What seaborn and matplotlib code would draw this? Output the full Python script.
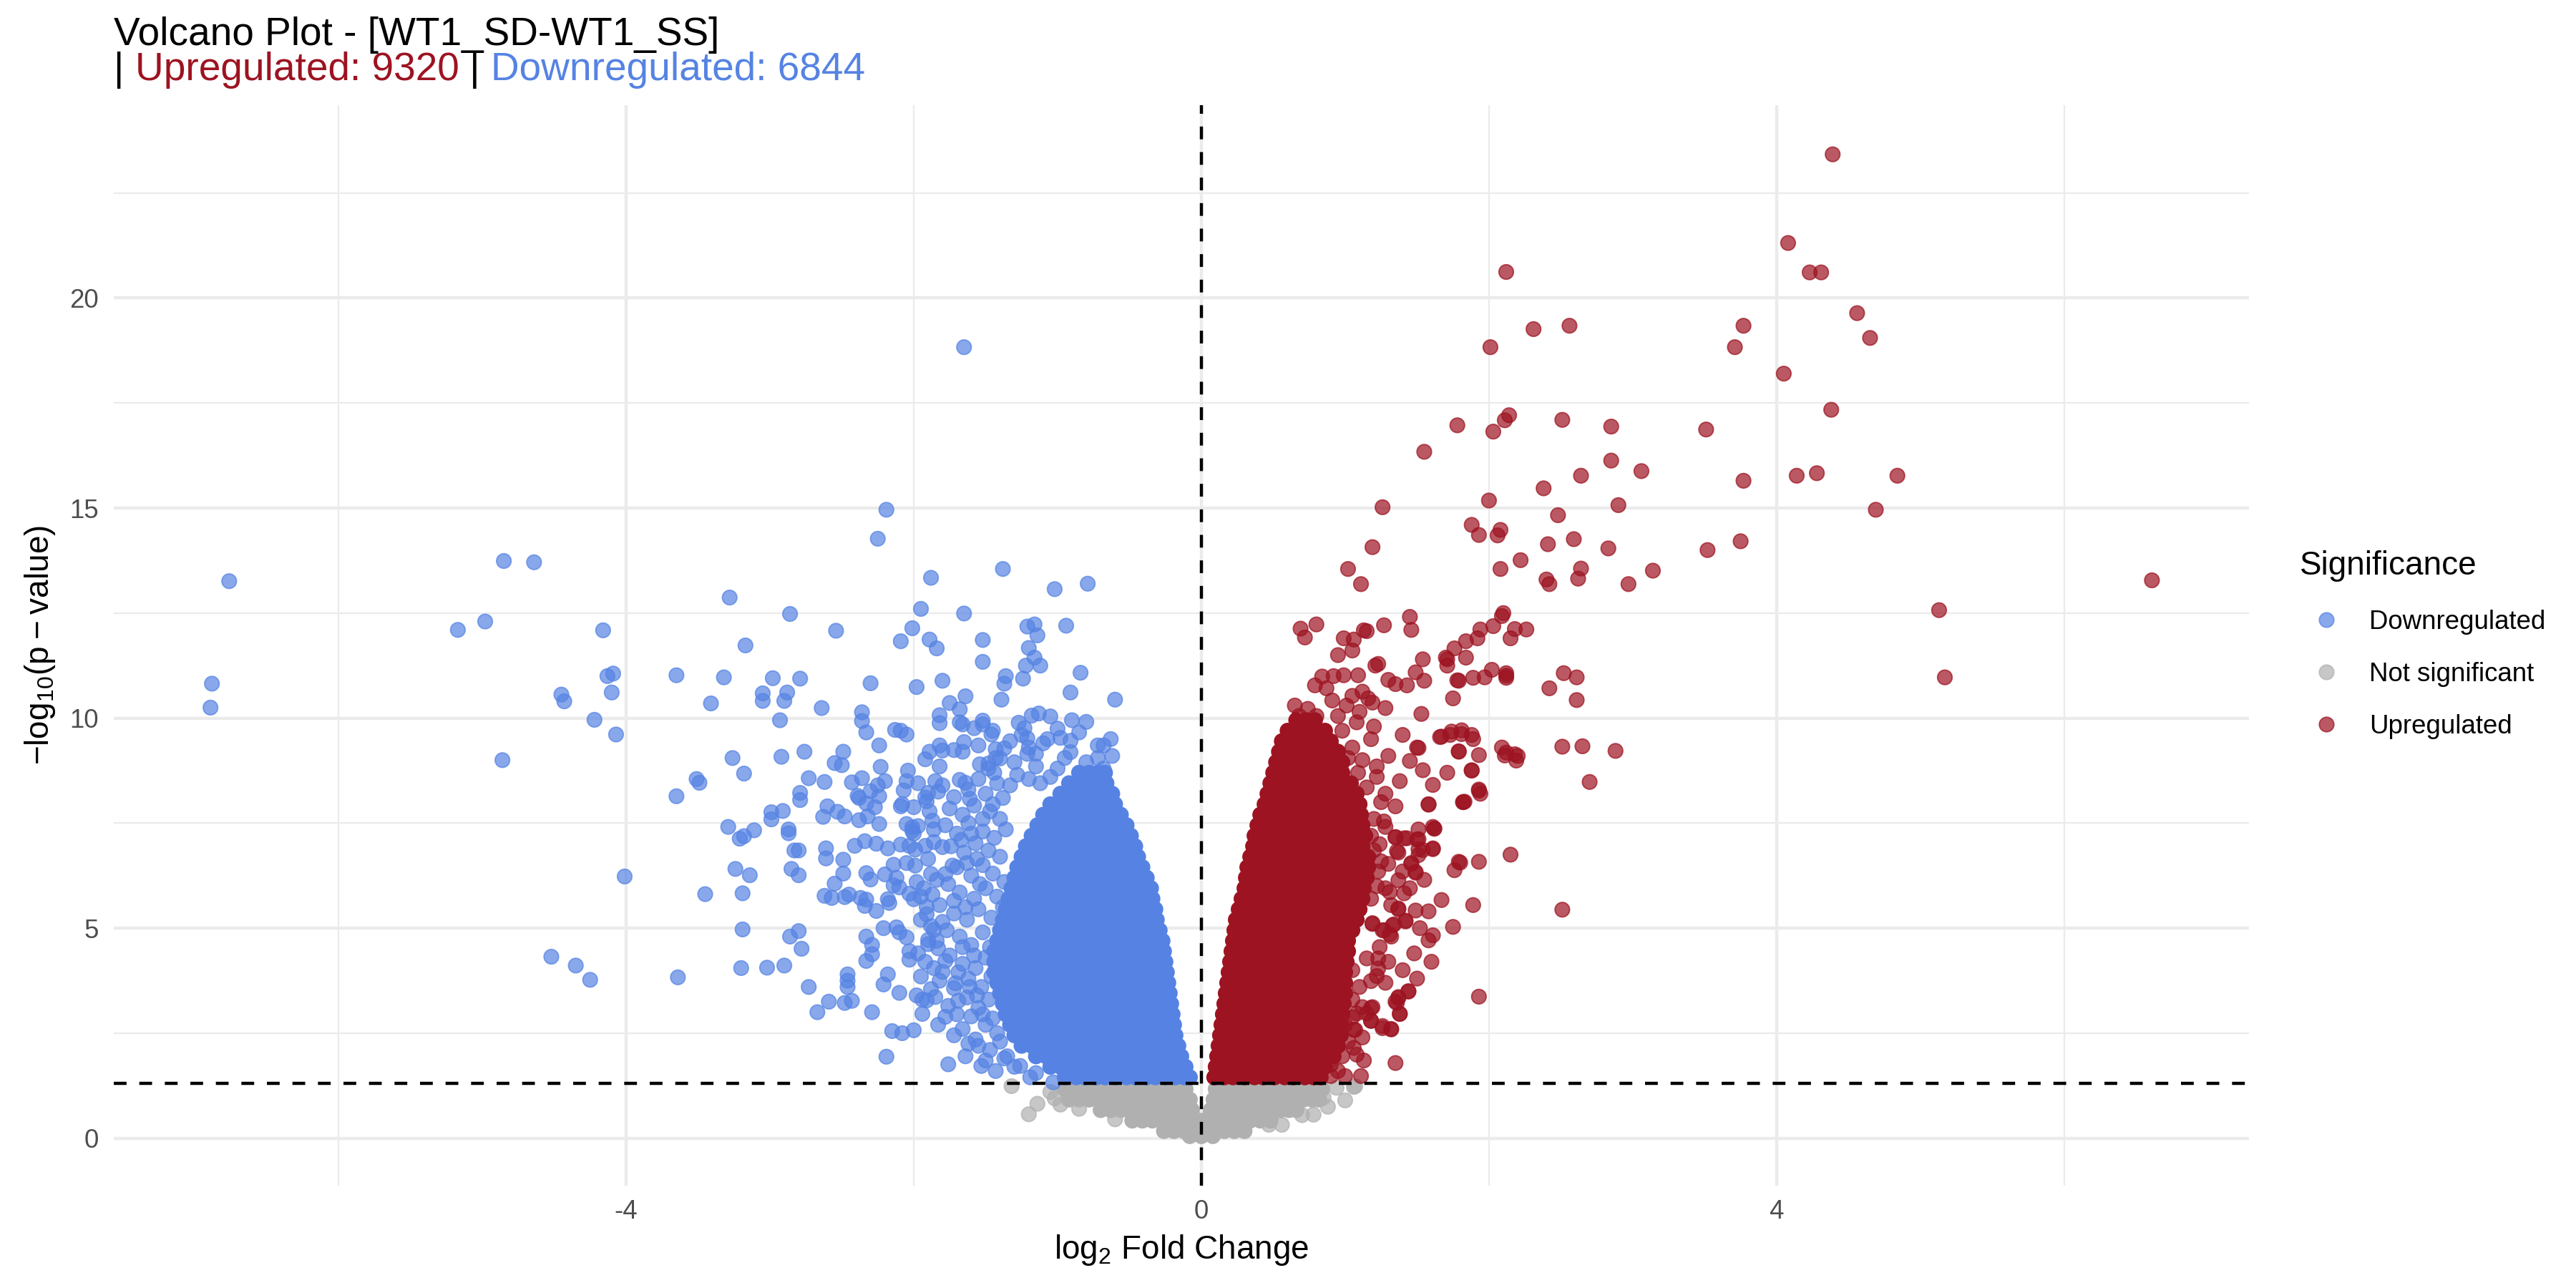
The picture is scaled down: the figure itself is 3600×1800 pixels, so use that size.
import numpy as np
import pandas as pd
import matplotlib
matplotlib.use("Agg")
import matplotlib.pyplot as plt
from matplotlib.lines import Line2D
from matplotlib.ticker import MultipleLocator
import seaborn as sns

# colours
col_down = "#5683E3"
col_up = "#9D1321"
col_ns = "#B0B0B0"

n_up = 9320
n_down = 6844

# ---- upregulated: dense core, one row per -log10 p level
up_rows_y = [1.45, 1.70, 1.95, 2.20, 2.45, 2.70, 2.95, 3.20, 3.45, 3.70, 3.95, 4.20, 4.45, 4.70,
             4.95, 5.20, 5.45, 5.70, 5.95, 6.20, 6.45, 6.70, 6.95, 7.20, 7.45, 7.70, 7.95, 8.20,
             8.45, 8.70, 8.95, 9.20, 9.45, 9.70, 9.95]
up_rows_x = [
    [.09, .16, .22, .30, .37, .43, .51, .58, .64, .72, .78, .83],
    [.10, .18, .24, .31, .39, .45, .52, .60, .66, .73, .80, .86],
    [.11, .18, .25, .33, .39, .46, .54, .60, .67, .75, .81, .88, .92],
    [.12, .19, .27, .33, .40, .48, .54, .61, .69, .75, .82, .89, .95],
    [.13, .21, .27, .34, .42, .48, .55, .63, .69, .76, .84, .90, .97],
    [.14, .21, .28, .36, .42, .49, .57, .63, .70, .78, .84, .91, .97],
    [.15, .22, .30, .36, .43, .51, .57, .64, .72, .78, .85, .93, .98],
    [.16, .24, .30, .37, .45, .51, .58, .66, .72, .79, .87, .93, .99],
    [.17, .24, .31, .39, .45, .52, .60, .66, .73, .81, .87, .94, 1.0],
    [.18, .25, .33, .39, .46, .54, .60, .67, .75, .81, .88, .96, 1.0],
    [.19, .27, .33, .40, .48, .54, .61, .69, .75, .82, .90, .96, 1.0],
    [.20, .27, .34, .42, .48, .55, .63, .69, .76, .84, .90, .97, 1.01],
    [.21, .28, .36, .42, .49, .57, .63, .70, .78, .84, .91, .99, 1.02],
    [.22, .30, .36, .43, .51, .57, .64, .72, .78, .85, .93, .99, 1.02],
    [.23, .30, .37, .45, .51, .58, .66, .72, .79, .87, .93, 1.00, 1.05],
    [.24, .31, .39, .45, .52, .60, .66, .73, .81, .87, .94, 1.02, 1.08],
    [.26, .33, .40, .48, .54, .61, .69, .75, .82, .90, .96, 1.03, 1.10],
    [.28, .35, .42, .50, .56, .63, .71, .77, .84, .92, .98, 1.05, 1.12],
    [.30, .37, .45, .51, .58, .66, .72, .79, .87, .93, 1.00, 1.08, 1.13],
    [.31, .38, .46, .52, .59, .67, .73, .80, .88, .94, 1.01, 1.09, 1.15],
    [.32, .40, .46, .53, .61, .67, .74, .82, .88, .95, 1.03, 1.09, 1.16],
    [.34, .41, .48, .56, .62, .69, .77, .83, .90, .98, 1.04, 1.11, 1.16],
    [.36, .43, .51, .57, .64, .72, .78, .85, .93, .99, 1.06, 1.12],
    [.37, .45, .51, .58, .66, .72, .79, .87, .93, 1.00, 1.08, 1.14],
    [.39, .46, .54, .60, .67, .75, .81, .88, .96, 1.02, 1.09, 1.12],
    [.41, .48, .56, .62, .69, .77, .83, .90, .98, 1.04, 1.11],
    [.44, .51, .59, .65, .72, .80, .86, .93, 1.01, 1.07, 1.10],
    [.46, .54, .60, .67, .75, .81, .88, .96, 1.02, 1.08],
    [.48, .56, .62, .69, .77, .83, .90, .98, 1.04],
    [.50, .58, .64, .71, .79, .85, .92, .98],
    [.52, .60, .66, .73, .81, .87, .94, .98],
    [.54, .62, .68, .75, .83, .89, .95],
    [.56, .64, .70, .77, .85, .90],
    [.60, .68, .74, .81, .86],
    [.66, .73, .79],
]

# ---- upregulated: scattered points (log2FC, -log10 p)
up_pts = [
    (4.39, 23.42), (4.08, 21.31), (4.23, 20.61), (4.31, 20.61), (2.12, 20.62), (4.56, 19.64),
    (4.65, 19.05), (3.77, 19.34), (3.71, 18.83), (2.31, 19.26), (2.56, 19.34), (2.01, 18.83),
    (4.05, 18.20), (4.38, 17.34), (1.78, 16.97), (2.11, 17.09), (2.14, 17.21), (2.03, 16.82),
    (2.51, 17.10), (2.85, 16.94), (3.51, 16.87), (1.55, 16.34), (2.85, 16.13), (3.06, 15.88),
    (2.64, 15.77), (2.38, 15.47), (3.77, 15.65), (4.14, 15.77), (4.28, 15.83), (4.84, 15.77),
    (2.00, 15.18), (2.90, 15.07), (4.69, 14.96), (2.48, 14.83), (1.88, 14.60), (1.93, 14.36),
    (2.08, 14.48), (2.06, 14.35), (2.41, 14.14), (2.59, 14.26), (2.83, 14.04), (3.52, 14.00),
    (3.75, 14.21), (2.22, 13.76), (2.64, 13.56), (2.08, 13.55), (2.40, 13.30), (2.42, 13.19),
    (2.62, 13.32), (2.97, 13.19), (3.14, 13.51), (6.61, 13.28), (5.13, 12.57), (5.17, 10.97),
    (1.45, 12.41), (1.46, 12.10), (2.10, 12.50), (2.09, 12.43), (2.03, 12.19), (1.94, 12.11),
    (2.18, 12.12), (2.26, 12.11), (2.15, 11.90), (1.92, 11.90), (1.84, 11.83), (1.76, 11.66),
    (1.54, 11.40), (1.70, 11.44), (1.71, 11.25), (1.84, 11.44), (2.02, 11.15), (2.12, 11.07),
    (2.12, 10.96), (1.97, 10.97), (1.89, 10.96), (1.79, 10.89), (1.49, 11.09), (1.55, 10.89),
    (1.43, 10.78), (2.52, 11.07), (2.61, 10.97), (2.42, 10.71), (2.61, 10.43), (1.75, 10.47),
    (1.53, 10.10), (2.51, 9.32), (2.65, 9.33), (2.88, 9.22), (2.70, 8.48), (2.11, 9.11),
    (2.19, 8.99), (2.18, 9.14), (1.88, 9.60), (1.81, 9.71), (1.74, 9.68), (1.67, 9.56),
    (1.79, 9.21), (1.93, 9.12), (1.88, 8.76), (1.71, 8.70), (1.93, 8.27), (1.82, 8.00),
    (1.58, 7.94), (1.50, 9.30), (1.40, 9.60), (1.26, 15.02), (1.19, 14.07), (1.02, 13.55),
    (1.11, 13.19), (0.80, 12.23), (0.69, 12.13), (0.72, 11.92), (1.27, 12.21), (1.13, 12.09),
    (1.15, 12.07), (0.99, 11.90), (1.06, 11.87), (1.05, 11.61), (0.95, 11.50), (1.23, 11.29),
    (1.21, 11.25), (1.71, 11.40), (0.99, 11.02), (1.09, 11.02), (0.84, 10.99), (0.92, 11.00),
    (0.79, 10.78), (0.87, 10.71), (1.30, 10.91), (1.35, 10.81), (1.78, 10.90), (1.05, 10.53),
    (1.16, 10.47), (1.12, 10.63), (0.65, 10.30), (0.74, 10.22), (0.91, 10.42), (1.01, 10.30),
    (1.19, 10.37), (1.28, 10.24), (2.15, 6.75), (2.51, 5.44), (1.93, 3.37), (1.35, 1.79),
    (1.08, 1.99), (1.32, 2.60), (1.26, 2.62), (1.38, 2.96), (1.44, 3.50), (1.36, 3.22),
    (1.37, 3.36), (1.18, 2.80), (1.19, 3.12), (1.06, 2.58), (1.61, 4.83), (1.75, 5.03),
    (1.58, 4.71), (1.67, 5.67), (1.89, 5.55), (1.49, 5.42), (1.42, 5.18), (1.34, 5.09),
    (1.26, 4.95), (1.31, 4.85), (1.19, 5.12), (1.37, 5.47), (1.61, 6.88), (1.51, 6.88),
    (1.51, 7.12), (1.62, 7.37), (1.43, 7.14), (1.35, 7.16), (1.36, 6.83), (1.46, 6.55),
    (1.49, 6.34), (1.79, 6.58), (1.76, 6.38), (1.93, 6.58), (1.88, 8.75), (1.79, 9.20),
    (1.83, 8.01), (1.93, 8.30), (1.61, 7.41), (1.58, 7.95), (1.61, 8.41), (1.51, 9.29),
    (1.45, 8.98), (1.54, 8.76), (1.66, 9.55), (1.73, 9.60), (1.81, 9.62), (1.89, 9.50),
    (2.09, 9.30), (2.20, 9.10), (2.12, 9.18), (2.12, 11.01), (1.11, 1.48), (0.90, 1.48),
    (0.95, 1.60), (1.00, 1.48), (1.07, 2.58), (1.32, 2.59), (1.26, 2.67), (1.18, 2.79),
    (1.05, 2.88), (1.08, 2.97), (1.15, 2.97), (1.18, 3.10), (1.38, 2.96), (1.35, 3.25),
    (1.37, 3.34), (1.44, 3.49), (1.12, 3.12), (1.22, 3.86), (1.18, 3.74), (1.23, 4.04),
    (1.15, 4.28), (1.23, 4.28), (1.42, 5.16), (1.37, 5.45), (1.32, 4.80), (1.27, 4.95),
    (1.33, 5.07), (1.19, 5.10), (1.41, 5.83), (1.31, 5.86), (1.37, 6.14), (1.40, 6.35),
    (1.49, 6.32), (1.46, 6.53), (1.30, 6.53), (1.25, 6.59), (1.23, 6.35), (1.27, 7.54),
    (1.28, 7.41), (1.35, 7.17), (1.41, 7.14), (1.50, 7.11), (1.51, 7.35), (1.62, 7.37),
    (1.61, 6.90), (1.51, 6.74), (1.54, 6.86), (1.37, 6.80), (1.80, 6.56), (1.82, 8.00),
    (1.94, 8.20), (1.05, 9.30), (1.12, 9.00), (1.22, 8.60), (1.28, 8.20), (1.18, 9.50),
    (0.98, 9.70), (1.08, 9.90), (1.30, 9.10), (1.38, 8.50), (1.35, 7.90), (1.25, 8.00),
    (1.20, 7.60), (1.13, 1.85), (1.02, 2.30), (1.24, 4.55), (1.18, 5.70), (1.22, 6.00),
    (1.02, 5.60), (1.08, 5.90), (1.15, 6.40), (1.20, 6.85), (1.18, 7.20), (1.24, 7.00),
    (1.08, 7.95), (1.15, 8.35), (1.22, 8.85), (1.09, 8.70), (1.02, 9.05), (0.92, 9.25),
    (0.85, 9.55), (0.75, 9.80), (0.68, 10.05), (0.80, 10.05), (0.95, 10.05), (1.10, 10.15),
    (1.20, 9.80), (1.05, 4.00), (1.10, 3.60), (1.05, 3.30), (1.00, 2.70), (1.12, 2.40),
    (0.98, 1.95), (0.90, 1.75), (1.06, 2.15), (1.28, 3.70), (1.30, 4.20), (1.32, 5.55),
    (1.28, 5.95), (1.45, 5.95), (1.55, 6.15), (1.58, 5.40), (1.52, 5.00), (1.48, 4.40),
    (1.40, 4.00), (1.50, 3.80), (1.60, 4.20),
]

# ---- downregulated: dense core rows
down_rows_y = [1.45, 1.70, 1.95, 2.20, 2.45, 2.70, 2.95, 3.20, 3.45, 3.70, 3.95, 4.20, 4.45, 4.70,
               4.95, 5.20, 5.45, 5.70, 5.95, 6.20, 6.45, 6.70, 6.95, 7.20, 7.45, 7.70, 7.95, 8.20,
               8.45, 8.70]
down_rows_x = [
    [-.95, -.87, -.81, -.73, -.67, -.60, -.52, -.46, -.38, -.32, -.25, -.18, -.12, -.08],
    [-1.05, -.98, -.90, -.84, -.77, -.69, -.63, -.56, -.48, -.42, -.35, -.27, -.21, -.15, -.11],
    [-1.15, -1.08, -1.01, -.95, -.87, -.81, -.73, -.67, -.59, -.53, -.46, -.39, -.32, -.25, -.19, -.14],
    [-1.25, -1.18, -1.10, -1.04, -.97, -.89, -.83, -.76, -.68, -.62, -.55, -.47, -.41, -.34, -.27, -.21, -.16],
    [-1.30, -1.22, -1.15, -1.08, -1.01, -.94, -.87, -.80, -.73, -.66, -.59, -.52, -.45, -.38, -.31, -.24, -.18],
    [-1.33, -1.26, -1.19, -1.11, -1.05, -.98, -.90, -.84, -.77, -.69, -.63, -.56, -.48, -.42, -.35, -.28, -.22, -.19],
    [-1.36, -1.29, -1.22, -1.15, -1.08, -1.01, -.94, -.87, -.80, -.73, -.66, -.59, -.52, -.45, -.38, -.31, -.25, -.20],
    [-1.38, -1.32, -1.24, -1.18, -1.11, -1.03, -.97, -.90, -.82, -.76, -.69, -.61, -.55, -.48, -.40, -.34, -.27, -.21],
    [-1.40, -1.33, -1.26, -1.19, -1.12, -1.05, -.98, -.91, -.84, -.77, -.70, -.63, -.56, -.49, -.42, -.35, -.29, -.22],
    [-1.42, -1.36, -1.28, -1.22, -1.15, -1.07, -1.01, -.94, -.86, -.80, -.73, -.65, -.59, -.52, -.44, -.38, -.31, -.26, -.23],
    [-1.44, -1.37, -1.30, -1.23, -1.16, -1.09, -1.02, -.95, -.88, -.81, -.74, -.67, -.60, -.53, -.46, -.39, -.32, -.27, -.24],
    [-1.44, -1.38, -1.31, -1.24, -1.18, -1.10, -1.04, -.97, -.89, -.83, -.76, -.68, -.62, -.55, -.47, -.41, -.34, -.28, -.25],
    [-1.44, -1.37, -1.30, -1.23, -1.16, -1.09, -1.02, -.95, -.88, -.81, -.74, -.67, -.60, -.53, -.46, -.39, -.33, -.26],
    [-1.42, -1.35, -1.27, -1.21, -1.14, -1.06, -1.00, -.93, -.85, -.79, -.72, -.64, -.58, -.51, -.43, -.37, -.31, -.27],
    [-1.40, -1.33, -1.26, -1.19, -1.12, -1.05, -.98, -.91, -.84, -.77, -.70, -.63, -.56, -.49, -.42, -.36, -.29],
    [-1.38, -1.31, -1.23, -1.17, -1.10, -1.02, -.96, -.89, -.81, -.75, -.68, -.60, -.54, -.47, -.40, -.34, -.31],
    [-1.36, -1.29, -1.22, -1.15, -1.08, -1.01, -.94, -.87, -.80, -.73, -.66, -.59, -.52, -.45, -.38, -.32],
    [-1.34, -1.27, -1.19, -1.13, -1.06, -.98, -.92, -.85, -.77, -.71, -.64, -.56, -.50, -.43, -.37, -.34],
    [-1.32, -1.25, -1.18, -1.11, -1.04, -.97, -.90, -.83, -.76, -.69, -.62, -.55, -.48, -.41, -.35],
    [-1.30, -1.23, -1.15, -1.09, -1.02, -.94, -.88, -.81, -.73, -.67, -.60, -.52, -.46, -.40, -.38],
    [-1.28, -1.21, -1.14, -1.07, -1.00, -.93, -.86, -.79, -.72, -.65, -.58, -.51, -.45, -.41],
    [-1.25, -1.18, -1.10, -1.04, -.97, -.89, -.83, -.76, -.68, -.62, -.55, -.49, -.44],
    [-1.22, -1.15, -1.08, -1.01, -.94, -.87, -.80, -.73, -.66, -.59, -.52, -.46],
    [-1.18, -1.11, -1.03, -.97, -.90, -.82, -.76, -.69, -.61, -.55, -.49],
    [-1.14, -1.07, -1.00, -.93, -.86, -.79, -.72, -.65, -.58, -.52],
    [-1.10, -1.03, -.95, -.89, -.82, -.74, -.68, -.61, -.56],
    [-1.05, -.98, -.91, -.84, -.77, -.70, -.64, -.60],
    [-.98, -.91, -.83, -.77, -.70, -.64, -.62],
    [-.92, -.85, -.78, -.71, -.66],
    [-.85, -.78, -.72, -.67],
]

# ---- downregulated: scattered points
down_pts = [
    (-6.89, 10.25), (-6.88, 10.82), (-6.76, 13.26), (-5.17, 12.10), (-4.98, 12.30), (-4.85, 13.74),
    (-4.64, 13.71), (-4.86, 9.00), (-4.16, 12.09), (-4.09, 11.06), (-4.13, 11.00), (-4.10, 10.61),
    (-4.45, 10.56), (-4.43, 10.40), (-4.22, 9.96), (-4.07, 9.61), (-4.01, 6.23), (-4.52, 4.32),
    (-4.35, 4.11), (-4.25, 3.77), (-3.65, 11.02), (-3.65, 8.14), (-3.64, 3.83),
    (-1.65, 18.83), (-2.19, 14.96), (-2.25, 14.27), (-1.38, 13.55), (-1.88, 13.34), (-1.02, 13.07),
    (-0.79, 13.20), (-3.28, 12.87), (-2.86, 12.48), (-1.95, 12.60), (-1.65, 12.49), (-2.54, 12.08),
    (-3.17, 11.73), (-2.01, 12.14), (-2.09, 11.83), (-1.89, 11.87), (-1.84, 11.66), (-1.52, 11.86),
    (-1.52, 11.34), (-0.94, 12.20), (-1.21, 12.18), (-1.16, 12.23), (-1.14, 11.97), (-1.20, 11.67),
    (-1.16, 11.44), (-1.22, 11.25), (-1.12, 11.25), (-0.84, 11.08), (-0.91, 10.61), (-0.60, 10.44),
    (-1.36, 11.00), (-1.37, 10.82), (-1.24, 10.94), (-1.39, 10.44), (-3.32, 10.97), (-2.98, 10.95),
    (-2.79, 10.94), (-3.41, 10.35), (-3.05, 10.59), (-3.05, 10.41), (-2.88, 10.61), (-2.90, 10.41),
    (-2.93, 9.95), (-2.64, 10.24), (-2.30, 10.83), (-1.98, 10.74), (-1.80, 10.89), (-1.75, 10.36),
    (-1.68, 10.21), (-1.64, 10.52), (-2.36, 10.14), (-2.36, 9.93), (-2.33, 9.66), (-2.24, 9.35),
    (-2.13, 9.72), (-2.09, 9.70), (-2.05, 9.61), (-1.82, 10.07), (-1.82, 9.88), (-1.68, 9.90),
    (-1.66, 9.85), (-1.58, 9.76), (-1.52, 9.94), (-1.52, 9.85), (-1.45, 9.70), (-1.46, 9.61),
    (-1.27, 9.89), (-1.23, 9.76), (-1.18, 10.06), (-1.13, 10.11), (-1.05, 10.04), (-1.00, 9.75),
    (-0.98, 9.53), (-1.07, 9.50), (-0.91, 9.46), (-0.91, 9.19), (-0.90, 9.95), (-0.80, 9.91),
    (-0.85, 9.66), (-0.72, 9.35), (-0.68, 9.35), (-0.63, 9.50), (-1.25, 9.60), (-1.21, 9.52),
    (-1.20, 9.30), (-1.15, 9.15), (-1.21, 9.15), (-1.43, 9.26), (-1.37, 9.28), (-1.40, 9.04),
    (-3.26, 9.05), (-2.92, 9.08), (-2.76, 9.20), (-2.49, 9.20), (-2.55, 8.93), (-2.50, 8.88),
    (-3.18, 8.68), (-3.51, 8.55), (-3.49, 8.46), (-2.73, 8.57), (-2.62, 8.48), (-2.23, 8.84),
    (-2.36, 8.57), (-2.43, 8.47), (-2.20, 8.50), (-2.25, 8.40), (-2.30, 8.26), (-2.24, 8.14),
    (-2.79, 8.22), (-2.79, 8.05), (-2.60, 7.90), (-2.63, 7.65), (-2.53, 7.77), (-2.48, 7.66),
    (-2.99, 7.76), (-2.99, 7.59), (-2.91, 7.79), (-3.29, 7.41), (-3.21, 7.13), (-3.18, 7.19),
    (-3.11, 7.33), (-2.87, 7.35), (-2.87, 7.26), (-2.83, 6.85), (-2.38, 8.10), (-2.33, 7.97),
    (-2.27, 7.88), (-2.32, 7.66), (-2.38, 7.57), (-2.24, 7.48), (-2.04, 8.75), (-2.05, 8.50),
    (-1.97, 8.45), (-2.07, 8.28), (-2.08, 7.95), (-2.00, 7.88), (-1.92, 9.02), (-1.89, 9.20),
    (-1.82, 8.85), (-1.80, 9.23), (-1.72, 9.24), (-1.66, 9.20), (-1.65, 9.43), (-1.82, 9.35),
    (-1.54, 8.90), (-1.48, 8.92), (-1.48, 8.80), (-1.44, 8.70), (-1.43, 9.05), (-1.68, 8.53),
    (-1.64, 8.46), (-1.61, 8.08), (-1.90, 8.22), (-1.91, 8.02), (-1.89, 7.78), (-1.85, 8.50),
    (-1.83, 8.25), (-2.01, 7.40), (-2.00, 7.25), (-1.97, 7.43), (-2.39, 8.15), (-2.09, 7.90),
    (-1.92, 8.11), (-2.05, 7.48), (-2.01, 7.32), (-1.86, 7.35), (-1.87, 7.56),
    (-3.24, 6.41), (-3.14, 6.26), (-2.85, 6.41), (-2.80, 6.26), (-3.45, 5.81), (-3.19, 5.83),
    (-3.19, 4.97), (-2.86, 4.80), (-2.80, 4.93), (-2.78, 4.51), (-3.20, 4.05), (-3.02, 4.06),
    (-2.90, 4.11), (-2.73, 3.60), (-2.67, 3.00), (-2.59, 3.25), (-2.48, 3.22), (-2.43, 3.27),
    (-2.46, 3.90), (-2.46, 3.75), (-2.46, 3.60), (-2.29, 3.00), (-2.21, 3.66), (-2.18, 3.90),
    (-2.10, 3.46), (-1.98, 3.40), (-1.94, 3.30), (-1.91, 3.28), (-1.85, 3.36), (-1.94, 2.96),
    (-1.78, 2.89), (-1.69, 3.27), (-2.15, 2.55), (-2.08, 2.50), (-2.00, 2.57), (-2.19, 1.94),
    (-1.76, 1.76), (-1.53, 1.72), (-1.66, 2.60), (-1.57, 2.35), (-1.55, 2.20), (-1.37, 1.90),
    (-1.26, 1.72), (-1.19, 1.45), (-1.15, 1.55), (-1.03, 1.33), (-2.33, 4.80), (-2.29, 4.60),
    (-2.29, 4.38), (-2.33, 4.22), (-2.21, 5.00), (-2.12, 5.02), (-2.10, 4.90), (-2.05, 4.78),
    (-2.03, 4.45), (-2.03, 4.25), (-1.90, 4.62), (-1.90, 4.72), (-1.84, 4.70), (-1.83, 4.52),
    (-1.86, 4.96), (-1.80, 3.96), (-1.82, 3.75), (-1.71, 3.69), (-1.72, 3.57),
    (-2.62, 5.77), (-2.57, 5.72), (-2.48, 5.74), (-2.45, 5.80), (-2.37, 5.72), (-2.33, 5.68),
    (-2.34, 5.53), (-2.26, 5.41), (-2.18, 5.69), (-2.17, 5.60), (-2.14, 6.02), (-2.03, 5.82),
    (-2.00, 5.69), (-1.95, 5.75), (-1.91, 5.51), (-1.91, 5.33), (-2.61, 6.90), (-2.61, 6.66),
    (-2.49, 6.63), (-2.80, 6.85), (-2.49, 6.30), (-2.55, 6.06), (-2.41, 6.96), (-2.34, 7.07),
    (-2.26, 7.01), (-2.18, 6.90), (-2.09, 6.99), (-2.03, 6.96), (-1.99, 6.87), (-1.92, 6.96),
    (-1.86, 7.05), (-1.80, 6.93), (-2.33, 6.31), (-2.30, 6.16), (-2.20, 6.28), (-2.14, 6.51),
    (-2.12, 6.20), (-2.10, 5.97), (-2.05, 6.55), (-1.99, 6.49), (-1.90, 6.65), (-1.88, 6.29),
    (-1.78, 6.29), (-1.73, 6.49),
    (-1.80, 8.40), (-1.72, 8.12), (-1.62, 8.30), (-1.55, 8.55), (-1.50, 8.20), (-1.42, 8.45),
    (-1.75, 7.85), (-1.66, 7.70), (-1.58, 7.92), (-1.47, 7.78), (-1.40, 7.60), (-1.78, 7.45),
    (-1.70, 7.25), (-1.62, 7.50), (-1.52, 7.30), (-1.44, 7.15), (-1.36, 7.35), (-1.74, 6.95),
    (-1.65, 6.80), (-1.57, 7.02), (-1.48, 6.85), (-1.40, 6.70), (-1.70, 6.45), (-1.60, 6.25),
    (-1.52, 6.50), (-1.45, 6.30), (-1.37, 6.10), (-1.76, 6.05), (-1.68, 5.85), (-1.58, 5.70),
    (-1.50, 5.95), (-1.42, 5.75), (-1.82, 5.55), (-1.72, 5.35), (-1.63, 5.20), (-1.55, 5.45),
    (-1.46, 5.25), (-1.38, 5.50), (-1.77, 4.95), (-1.68, 4.80), (-1.60, 4.60), (-1.52, 4.90),
    (-1.47, 4.55), (-1.75, 4.35), (-1.66, 4.15), (-1.57, 4.05), (-1.50, 4.30), (-1.62, 3.80),
    (-1.53, 3.60), (-1.46, 3.85), (-1.63, 3.35), (-1.55, 3.10), (-1.48, 3.30), (-1.60, 2.90),
    (-1.50, 2.70), (-1.42, 2.50), (-1.47, 2.10), (-1.40, 2.30), (-1.35, 1.95), (-1.30, 1.70),
    (-1.98, 6.10), (-1.93, 5.95), (-1.87, 5.80), (-1.84, 6.15), (-1.95, 5.20), (-1.88, 5.05),
    (-1.80, 5.15), (-1.97, 4.40), (-1.92, 4.20), (-1.86, 4.05), (-1.78, 4.22), (-1.95, 3.85),
    (-1.88, 3.55), (-1.76, 3.15), (-1.70, 2.95), (-1.83, 2.70), (-1.72, 2.45), (-1.62, 2.25),
    (-1.64, 1.95), (-1.50, 1.85), (-1.43, 1.60), (-1.72, 5.65), (-1.64, 5.50), (-1.66, 4.55),
    (-1.58, 4.35), (-1.69, 3.95), (-1.61, 3.60), (-1.56, 3.40), (-1.52, 2.95), (-1.45, 2.85),
    (-1.54, 6.05), (-1.63, 6.55), (-1.56, 6.65), (-1.67, 7.10), (-1.60, 7.25), (-1.52, 7.60),
    (-1.45, 7.95), (-1.38, 8.10), (-1.33, 8.40), (-1.28, 8.65), (-1.20, 8.55), (-1.12, 8.45),
    (-1.05, 8.60), (-1.00, 8.80), (-1.15, 8.85), (-1.30, 8.95), (-0.95, 9.05), (-0.80, 8.95),
    (-0.72, 9.05), (-0.68, 8.80), (-0.62, 9.10), (-1.10, 9.40), (-1.33, 9.45), (-1.55, 9.35),
]

# ---- not significant: rows below the p = 0.05 line, plus stragglers
ns_rows_y = [1.17, 0.92, 0.67, 0.42, 0.17, 0.05]
ns_rows_x = [
    [-.95, -.88, -.81, -.74, -.67, -.60, -.53, -.46, -.39, -.32, -.25, -.18, -.11,
     .10, .17, .24, .31, .38, .45, .52, .59, .66, .73, .80, .84],
    [-.92, -.85, -.78, -.71, -.64, -.57, -.50, -.43, -.36, -.29, -.22, -.15, -.08,
     .085, .15, .22, .29, .36, .43, .50, .57, .64, .71, .77, .82],
    [-.70, -.63, -.56, -.49, -.42, -.35, -.28, -.21, -.14, -.065,
     .065, .13, .20, .27, .34, .41, .48, .55, .61, .66],
    [-.48, -.41, -.34, -.27, -.20, -.13, -.06, -.02, .02, .06, .13, .20, .27, .34, .41, .48],
    [-.26, -.19, -.12, -.05, .02, .09, .16, .23, .30],
    [-.08, 0.0, .08],
]
ns_pts = [
    (-1.32, 1.24), (-1.14, 0.82), (-1.20, 0.57), (1.07, 1.24), (1.00, 0.90), (0.94, 1.20),
    (0.85, 0.97), (0.78, 0.56), (0.56, 0.32), (0.47, 0.32), (-1.05, 1.10), (-1.02, 0.95),
    (-0.98, 0.80), (-0.85, 0.70), (-0.60, 0.45), (0.70, 0.55), (0.88, 0.75), (1.06, 1.22),
]


def rows_frame(rows_y, rows_x, label):
    xs, ys = [], []
    for yv, row in zip(rows_y, rows_x):
        xs += list(row)
        ys += [yv] * len(row)
    return pd.DataFrame({"log2FC": xs, "nlp": ys, "Significance": label})


def pts_frame(pts, label):
    return pd.DataFrame({"log2FC": [p[0] for p in pts], "nlp": [p[1] for p in pts],
                         "Significance": label})


# the cores are thousands of stacked genes -> fully saturated colour
core = pd.concat([
    rows_frame(ns_rows_y, ns_rows_x, "Not significant"),
    rows_frame(down_rows_y, down_rows_x, "Downregulated"),
    rows_frame(up_rows_y, up_rows_x, "Upregulated"),
], ignore_index=True)
spread = pd.concat([
    pts_frame(ns_pts, "Not significant"),
    pts_frame(down_pts, "Downregulated"),
    pts_frame(up_pts, "Upregulated"),
], ignore_index=True)

palette = {"Downregulated": col_down, "Not significant": col_ns, "Upregulated": col_up}

sns.set_style("white")
plt.rcParams["font.family"] = ["Liberation Sans", "DejaVu Sans"]
plt.rcParams["mathtext.default"] = "regular"
plt.rcParams["axes.unicode_minus"] = False
plt.rcParams["text.color"] = "black"
plt.rcParams["axes.labelcolor"] = "black"

fig = plt.figure(figsize=(12, 6), dpi=300)
ax = fig.add_axes([0.04403, 0.07944, 0.82903, 0.83889])

msize = 24
sns.scatterplot(data=core, x="log2FC", y="nlp", hue="Significance", palette=palette,
                s=msize, alpha=1.0, edgecolor="face", linewidth=0.45, legend=False, ax=ax, zorder=3)
sns.scatterplot(data=spread, x="log2FC", y="nlp", hue="Significance", palette=palette,
                s=msize, alpha=0.7, edgecolor="face", linewidth=0.45, legend=False, ax=ax, zorder=3)

ax.axhline(-np.log10(0.05), color="black", lw=1.07, ls=(0, (4, 4)), zorder=4)
ax.axvline(0, color="black", lw=1.07, ls=(0, (4, 4)), zorder=4)

ax.set_xlim(-7.565, 7.285)
ax.set_ylim(-1.13, 24.59)
ax.xaxis.set_major_locator(MultipleLocator(4))
ax.xaxis.set_minor_locator(MultipleLocator(2))
ax.yaxis.set_major_locator(MultipleLocator(5))
ax.yaxis.set_minor_locator(MultipleLocator(2.5))
ax.grid(which="major", color="#EBEBEB", lw=1.07, zorder=0)
ax.grid(which="minor", color="#EBEBEB", lw=0.53, zorder=0)
ax.set_axisbelow(True)
for sp in ax.spines.values():
    sp.set_visible(False)
ax.tick_params(which="both", length=0, labelsize=8.8, labelcolor="#4D4D4D")
ax.tick_params(axis="x", pad=4.5)
ax.tick_params(axis="y", pad=5)

ax.set_xlabel(r"$log_2$ Fold Change", fontsize=11, labelpad=3)
ax.set_ylabel(r"$-log_{10}(p-value)$", fontsize=11, labelpad=4)

# title: plain first line, coloured counts on the second
fig.text(0.0442, 0.965, "Volcano Plot - [WT1_SD-WT1_SS]", fontsize=13.2, va="baseline", ha="left")
t = fig.text(0.0442, 0.9378, "| ", fontsize=13.2, va="baseline", ha="left", color="black")
t = ax.annotate(f"Upregulated: {n_up}", xy=(1, 0), xycoords=t, va="bottom", ha="left",
                fontsize=13.2, color=col_up, annotation_clip=False)
t = ax.annotate(" | ", xy=(1, 0), xycoords=t, va="bottom", ha="left",
                fontsize=13.2, color="black", annotation_clip=False)
ax.annotate(f"Downregulated: {n_down}", xy=(1, 0), xycoords=t, va="bottom", ha="left",
            fontsize=13.2, color=col_down, annotation_clip=False)

handles = [Line2D([], [], ls="", marker="o", markersize=np.sqrt(msize), color=palette[k],
                  markeredgewidth=0.45, alpha=0.7) for k in palette]
fig.legend(handles, list(palette.keys()), title="Significance", loc="upper left",
           bbox_to_anchor=(0.8877, 0.5827), frameon=False, fontsize=8.8, title_fontsize=11,
           alignment="left", borderpad=0, handlelength=2.0, handletextpad=0.65,
           labelspacing=1.04)

fig.savefig("out.png", dpi=300)
